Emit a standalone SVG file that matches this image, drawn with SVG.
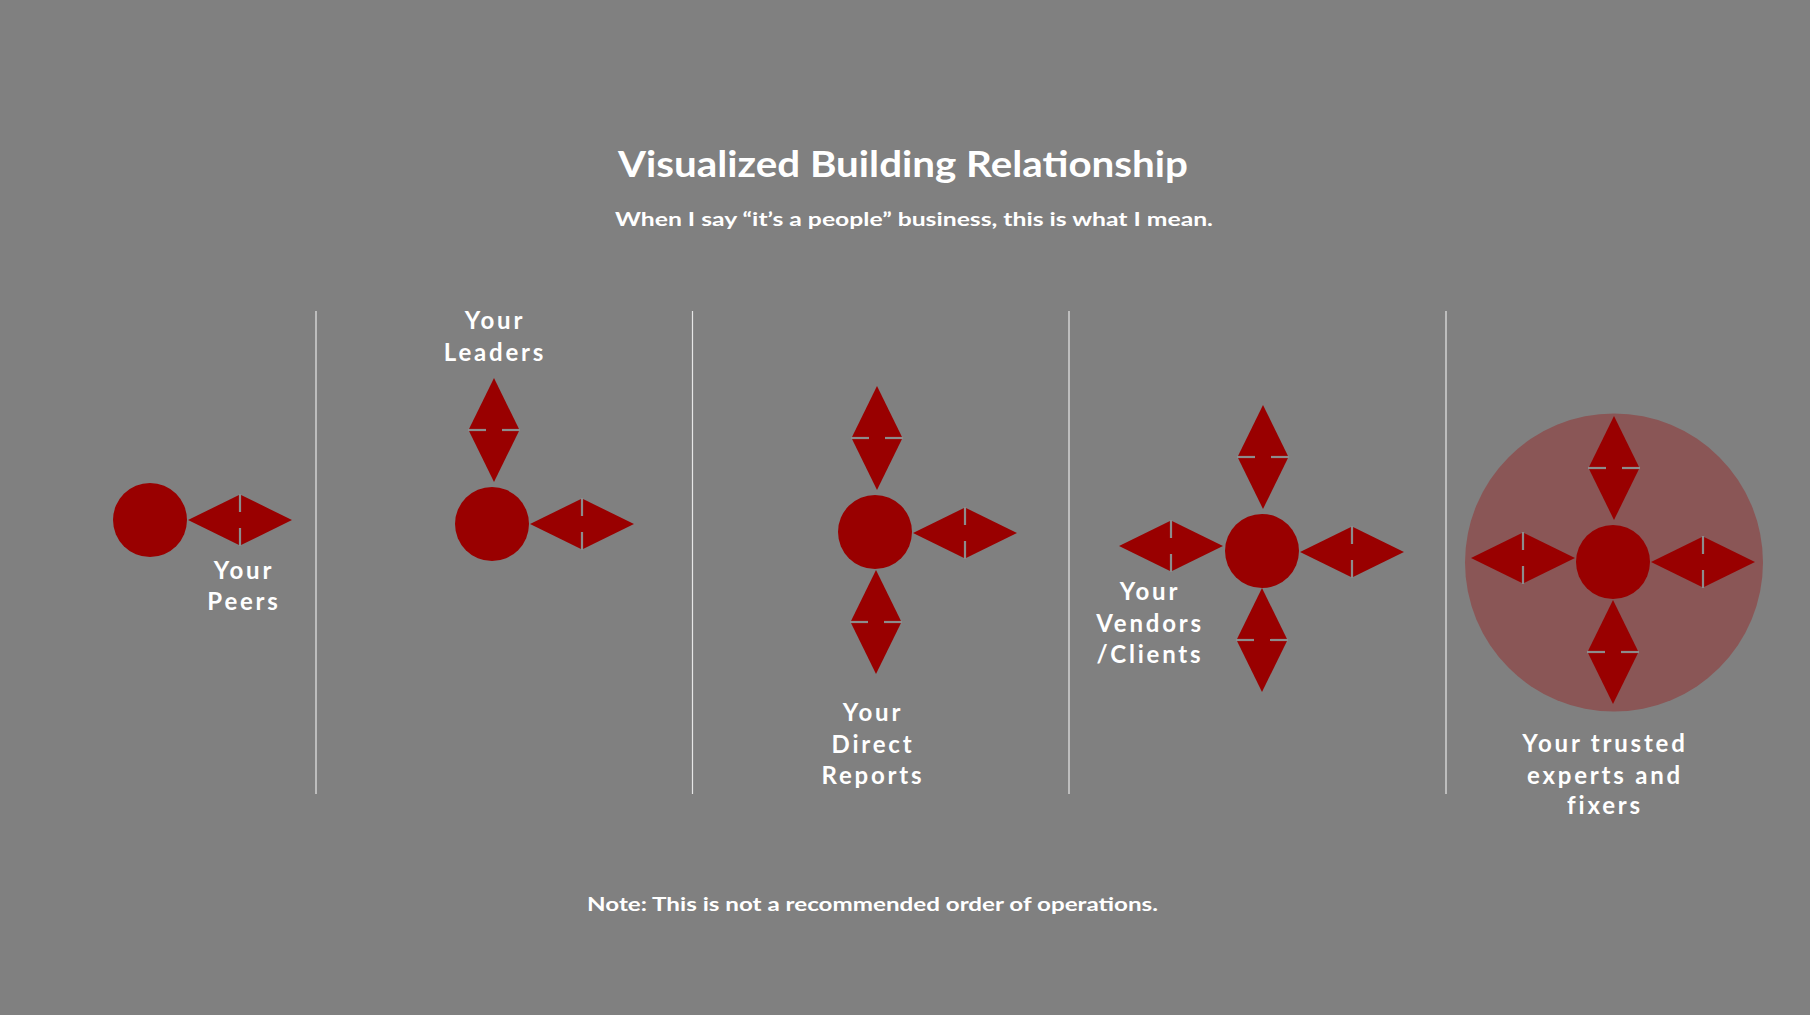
<svg xmlns="http://www.w3.org/2000/svg" xmlns:xlink="http://www.w3.org/1999/xlink" width="1810" height="1015" viewBox="0 0 1810 1015">
<style>
.bg{fill:#808080}
.dot{fill:#990000}
.halo{fill:#8a5656}
.div{stroke:#e6e6e6;stroke-width:1.2}
.lbl{font-family:Lato,"Open Sans","Liberation Sans",sans-serif;font-weight:700;font-size:24px;fill:#ffffff;text-anchor:middle;letter-spacing:2.8px}
.ttl{font-family:Lato,"Open Sans","Liberation Sans",sans-serif;font-weight:700;fill:#ffffff}
</style>
<defs>
<g id="arrowH">
<polygon points="-52,0 0,-25.5 52,0 0,25.5" fill="#990000"/>
<line x1="0" y1="-26" x2="0" y2="-8" stroke="#8c8c8c" stroke-width="2.2"/>
<line x1="0" y1="8" x2="0" y2="26" stroke="#8c8c8c" stroke-width="2.2"/>
</g>
<g id="arrowV">
<use xlink:href="#arrowH" href="#arrowH" transform="rotate(90)"/>
</g>
</defs>
<rect class="bg" x="0" y="0" width="1810" height="1015"/>
<g id="title">
<text class="ttl" x="903" y="177" font-size="37" text-anchor="middle" textLength="570" lengthAdjust="spacingAndGlyphs">Visualized Building Relationship</text>
<text class="ttl" x="914" y="226" font-size="19" text-anchor="middle" textLength="598" lengthAdjust="spacingAndGlyphs">When I say “it’s a people” business, this is what I mean.</text>
</g>
<g id="connectors">
<line class="div" x1="316" y1="311" x2="316" y2="794"/>
<line class="div" x1="692.5" y1="311" x2="692.5" y2="794"/>
<line class="div" x1="1069" y1="311" x2="1069" y2="794"/>
<line class="div" x1="1446" y1="311" x2="1446" y2="794"/>
</g>
<g id="node-peers">
<circle class="dot" cx="150" cy="520" r="37"/>
<use href="#arrowH" xlink:href="#arrowH" x="240" y="520"/>
<text class="lbl" x="244" y="579">Your</text>
<text class="lbl" x="244" y="610">Peers</text>
</g>
<g id="node-leaders">
<circle class="dot" cx="492" cy="524" r="37"/>
<use href="#arrowV" xlink:href="#arrowV" x="494" y="430"/>
<use href="#arrowH" xlink:href="#arrowH" x="582" y="524"/>
<text class="lbl" x="495" y="329">Your</text>
<text class="lbl" x="495" y="361">Leaders</text>
</g>
<g id="node-reports">
<circle class="dot" cx="875" cy="532" r="37"/>
<use href="#arrowV" xlink:href="#arrowV" x="877" y="438"/>
<use href="#arrowH" xlink:href="#arrowH" x="965" y="533"/>
<use href="#arrowV" xlink:href="#arrowV" x="876" y="622"/>
<text class="lbl" x="873" y="721">Your</text>
<text class="lbl" x="873" y="753">Direct</text>
<text class="lbl" x="873" y="784">Reports</text>
</g>
<g id="node-vendors">
<circle class="dot" cx="1262" cy="551" r="37"/>
<use href="#arrowV" xlink:href="#arrowV" x="1263" y="457"/>
<use href="#arrowH" xlink:href="#arrowH" x="1171" y="546"/>
<use href="#arrowH" xlink:href="#arrowH" x="1352" y="552"/>
<use href="#arrowV" xlink:href="#arrowV" x="1262" y="640"/>
<text class="lbl" x="1150" y="600">Your</text>
<text class="lbl" x="1150" y="632">Vendors</text>
<text class="lbl" x="1150" y="663">/Clients</text>
</g>
<g id="node-experts">
<circle class="halo" cx="1614" cy="562.5" r="149"/>
<circle class="dot" cx="1613" cy="562" r="37"/>
<use href="#arrowV" xlink:href="#arrowV" x="1614" y="468"/>
<use href="#arrowH" xlink:href="#arrowH" x="1523" y="558"/>
<use href="#arrowH" xlink:href="#arrowH" x="1703" y="562"/>
<use href="#arrowV" xlink:href="#arrowV" x="1613" y="652"/>
<text class="lbl" x="1605" y="752">Your trusted</text>
<text class="lbl" x="1605" y="784">experts and</text>
<text class="lbl" x="1605" y="814">fixers</text>
</g>
<g id="note">
<text class="ttl" x="872.5" y="911" font-size="19" text-anchor="middle" textLength="571" lengthAdjust="spacingAndGlyphs">Note: This is not a recommended order of operations.</text>
</g>
</svg>
